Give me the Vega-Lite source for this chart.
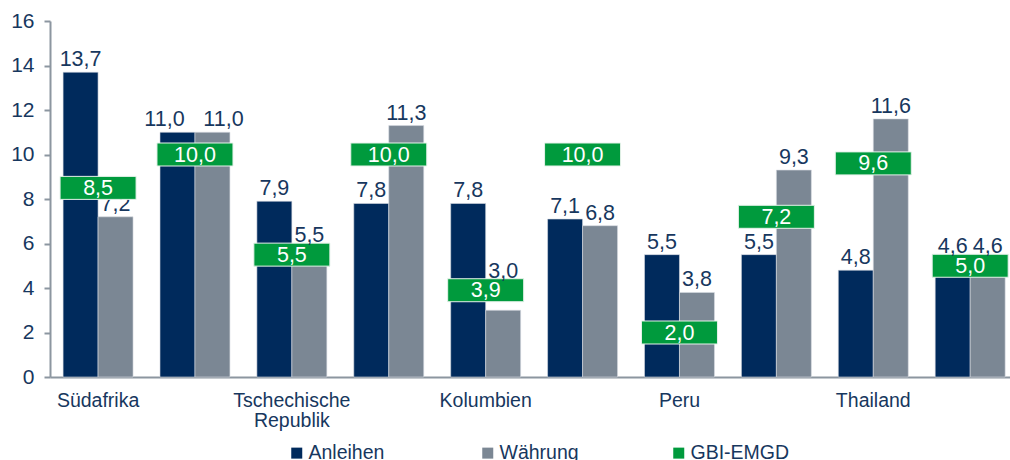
{
  "$schema": "https://vega.github.io/schema/vega-lite/v6.json",
  "autosize": {"type": "none"},
  "padding": {"left": 50, "top": 21, "right": 0, "bottom": 83},
  "width": 960,
  "height": 356,
  "config": {
    "font": "Liberation Sans",
    "view": {"stroke": null},
    "locale": {"number": {"decimal": ",", "thousands": ".", "grouping": [3], "currency": ["", " €"]}}
  },
  "datasets": {
    "balken": [
      {"pos": 1, "land": "Südafrika", "serie": "Anleihen", "wert": 13.7},
      {"pos": 1, "land": "Südafrika", "serie": "Währung", "wert": 7.2},
      {"pos": 2, "land": "", "serie": "Anleihen", "wert": 11.0},
      {"pos": 2, "land": "", "serie": "Währung", "wert": 11.0},
      {"pos": 3, "land": "Tschechische Republik", "serie": "Anleihen", "wert": 7.9},
      {"pos": 3, "land": "Tschechische Republik", "serie": "Währung", "wert": 5.5},
      {"pos": 4, "land": "", "serie": "Anleihen", "wert": 7.8},
      {"pos": 4, "land": "", "serie": "Währung", "wert": 11.3},
      {"pos": 5, "land": "Kolumbien", "serie": "Anleihen", "wert": 7.8},
      {"pos": 5, "land": "Kolumbien", "serie": "Währung", "wert": 3.0},
      {"pos": 6, "land": "", "serie": "Anleihen", "wert": 7.1},
      {"pos": 6, "land": "", "serie": "Währung", "wert": 6.8},
      {"pos": 7, "land": "Peru", "serie": "Anleihen", "wert": 5.5},
      {"pos": 7, "land": "Peru", "serie": "Währung", "wert": 3.8},
      {"pos": 8, "land": "", "serie": "Anleihen", "wert": 5.5},
      {"pos": 8, "land": "", "serie": "Währung", "wert": 9.3},
      {"pos": 9, "land": "Thailand", "serie": "Anleihen", "wert": 4.8},
      {"pos": 9, "land": "Thailand", "serie": "Währung", "wert": 11.6},
      {"pos": 10, "land": "", "serie": "Anleihen", "wert": 4.6},
      {"pos": 10, "land": "", "serie": "Währung", "wert": 4.6}
    ],
    "gbi": [
      {"pos": 1, "land": "Südafrika", "serie": "GBI-EMGD", "wert": 8.5},
      {"pos": 2, "land": "", "serie": "GBI-EMGD", "wert": 10.0},
      {"pos": 3, "land": "Tschechische Republik", "serie": "GBI-EMGD", "wert": 5.5},
      {"pos": 4, "land": "", "serie": "GBI-EMGD", "wert": 10.0},
      {"pos": 5, "land": "Kolumbien", "serie": "GBI-EMGD", "wert": 3.9},
      {"pos": 6, "land": "", "serie": "GBI-EMGD", "wert": 10.0},
      {"pos": 7, "land": "Peru", "serie": "GBI-EMGD", "wert": 2.0},
      {"pos": 8, "land": "", "serie": "GBI-EMGD", "wert": 7.2},
      {"pos": 9, "land": "Thailand", "serie": "GBI-EMGD", "wert": 9.6},
      {"pos": 10, "land": "", "serie": "GBI-EMGD", "wert": 5.0}
    ]
  },
  "encoding": {
    "x": {
      "field": "pos",
      "type": "ordinal",
      "scale": {"domain": [1, 2, 3, 4, 5, 6, 7, 8, 9, 10], "paddingInner": 0.278, "paddingOuter": 0.0925, "align": 0.73},
      "axis": {
        "title": null,
        "ticks": false,
        "labelAngle": 0,
        "labelFontSize": 19.5,
        "labelColor": "#17375E",
        "labelPadding": 14,
        "labelLineHeight": 20,
        "domainColor": "#8C96A0",
        "domainWidth": 2,
        "labelExpr": "datum.value == 1 ? 'Südafrika' : datum.value == 3 ? ['Tschechische', 'Republik'] : datum.value == 5 ? 'Kolumbien' : datum.value == 7 ? 'Peru' : datum.value == 9 ? 'Thailand' : ''"
      }
    },
    "y": {
      "field": "wert",
      "type": "quantitative",
      "scale": {"domain": [0, 16], "nice": false},
      "axis": {
        "title": null,
        "values": [0, 2, 4, 6, 8, 10, 12, 14, 16],
        "grid": false,
        "format": "d",
        "labelFontSize": 21,
        "labelColor": "#17375E",
        "labelPadding": 10,
        "tickSize": 6,
        "tickColor": "#8C96A0",
        "tickWidth": 2,
        "domainColor": "#8C96A0",
        "domainWidth": 2
      }
    }
  },
  "layer": [
    {
      "data": {"name": "balken"},
      "mark": {"type": "bar", "stroke": "#D8DCE2", "strokeWidth": 0.6},
      "encoding": {
        "xOffset": {"field": "serie", "type": "nominal", "scale": {"domain": ["Anleihen", "Währung"], "paddingInner": 0, "paddingOuter": 0}},
        "color": {
          "field": "serie",
          "type": "nominal",
          "scale": {"domain": ["Anleihen", "Währung", "GBI-EMGD"], "range": ["#002A5C", "#7B8794", "#009A3D"]},
          "legend": {
            "title": null,
            "orient": "none",
            "direction": "horizontal",
            "legendX": 237,
            "legendY": 422,
            "columns": 3,
            "gridAlign": "all",
            "columnPadding": 70,
            "padding": 0,
            "labelFontSize": 19.5,
            "labelColor": "#17375E",
            "labelOffset": 2,
            "symbolSize": 121,
            "symbolType": "square",
            "symbolStrokeWidth": 0,
            "encode": {
              "symbols": {
                "update": {
                  "shape": {"signal": "datum.value == 'GBI-EMGD' ? 'M-1.64,-0.64H1.64V0.64H-1.64Z' : 'square'"}
                }
              }
            }
          }
        }
      }
    },
    {
      "data": {"name": "balken"},
      "transform": [{"filter": "datum.pos != 2 && datum.pos != 10 && !((datum.pos == 3 || datum.pos == 5) && datum.serie == 'Währung')"}],
      "mark": {"type": "text", "baseline": "alphabetic", "dy": -6, "fontSize": 21.5, "color": "#17375E"},
      "encoding": {
        "xOffset": {"field": "serie", "type": "nominal", "scale": {"domain": ["Anleihen", "Währung"], "paddingInner": 0, "paddingOuter": 0}},
        "text": {"field": "wert", "type": "quantitative", "format": ".1f"}
      }
    },
    {
      "data": {"name": "balken"},
      "transform": [{"filter": "datum.pos == 2 && datum.serie == 'Anleihen'"}],
      "mark": {"type": "text", "baseline": "alphabetic", "dy": -6, "dx": -13, "fontSize": 21.5, "color": "#17375E"},
      "encoding": {
        "xOffset": {"field": "serie", "type": "nominal", "scale": {"domain": ["Anleihen", "Währung"], "paddingInner": 0, "paddingOuter": 0}},
        "text": {"field": "wert", "type": "quantitative", "format": ".1f"}
      }
    },
    {
      "data": {"name": "balken"},
      "transform": [{"filter": "datum.pos == 2 && datum.serie == 'Währung'"}],
      "mark": {"type": "text", "baseline": "alphabetic", "dy": -6, "dx": 11, "fontSize": 21.5, "color": "#17375E"},
      "encoding": {
        "xOffset": {"field": "serie", "type": "nominal", "scale": {"domain": ["Anleihen", "Währung"], "paddingInner": 0, "paddingOuter": 0}},
        "text": {"field": "wert", "type": "quantitative", "format": ".1f"}
      }
    },
    {
      "data": {"name": "gbi"},
      "mark": {"type": "tick", "size": 76, "thickness": 23, "opacity": 1, "stroke": "#E6F2EA", "strokeWidth": 1},
      "encoding": {
        "color": {"field": "serie", "type": "nominal"}
      }
    },
    {
      "data": {"name": "balken"},
      "transform": [
        {"filter": "datum.pos == 10 || ((datum.pos == 3 || datum.pos == 5) && datum.serie == 'Währung')"},
        {"lookup": "pos", "from": {"data": {"name": "gbi"}, "key": "pos", "fields": ["wert"]}, "as": ["gbiWert"]}
      ],
      "mark": {"type": "text", "baseline": "alphabetic", "dy": -12.5, "fontSize": 21.5, "color": "#17375E"},
      "encoding": {
        "xOffset": {"field": "serie", "type": "nominal", "scale": {"domain": ["Anleihen", "Währung"], "paddingInner": 0, "paddingOuter": 0}},
        "y": {"field": "gbiWert", "type": "quantitative"},
        "text": {"field": "wert", "type": "quantitative", "format": ".1f"}
      }
    },
    {
      "data": {"name": "gbi"},
      "mark": {"type": "text", "baseline": "middle", "dy": 1, "fontSize": 21.5, "color": "white"},
      "encoding": {
        "text": {"field": "wert", "type": "quantitative", "format": ".1f"}
      }
    }
  ]
}
